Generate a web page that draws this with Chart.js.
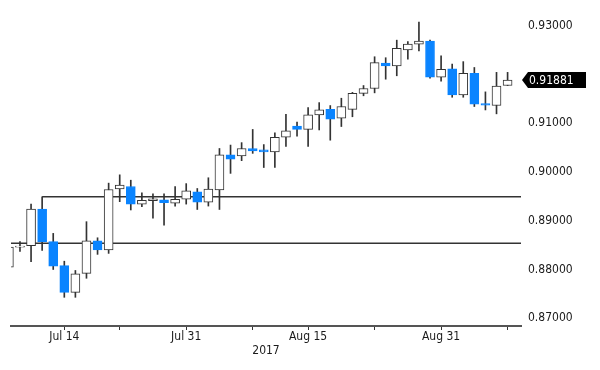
<!DOCTYPE html>
<html>
<head>
<meta charset="utf-8">
<script src="https://cdn.jsdelivr.net/npm/chart.js@4.4.0/dist/chart.umd.min.js"></script>
<style>
  html, body { margin: 0; padding: 0; background: #fff; }
  #wrap { width: 600px; height: 370px; }
</style>
</head>
<body>
<div id="wrap"><canvas id="c"></canvas></div>
<script>
'use strict'

// trading days, Jul 7 - Sep 8 2017
const dates = ['Jul 7','Jul 10','Jul 11','Jul 12','Jul 13','Jul 14','Jul 17','Jul 18','Jul 19','Jul 20',
  'Jul 21','Jul 24','Jul 25','Jul 26','Jul 27','Jul 28','Jul 31','Aug 1','Aug 2','Aug 3',
  'Aug 4','Aug 7','Aug 8','Aug 9','Aug 10','Aug 11','Aug 14','Aug 15','Aug 16','Aug 17',
  'Aug 18','Aug 21','Aug 22','Aug 23','Aug 24','Aug 25','Aug 28','Aug 29','Aug 30','Aug 31',
  'Sep 1','Sep 4','Sep 5','Sep 6','Sep 7','Sep 8'];

const open  = [0.8805,0.8846,0.8849,0.8924,0.8857,0.8808,0.8753,0.8792,0.8859,0.8840,
  0.8965,0.8970,0.8934,0.8941,0.8943,0.8936,0.8944,0.8959,0.8938,0.8963,
  0.9035,0.9033,0.9048,0.9045,0.9041,0.9071,0.9094,0.9087,0.9117,0.9128,
  0.9110,0.9128,0.9161,0.9171,0.9223,0.9217,0.9250,0.9262,0.9268,0.9194,
  0.9211,0.9158,0.9202,0.9140,0.9136,0.9177];
const high  = [0.8851,0.8857,0.8934,0.8949,0.8874,0.8817,0.8798,0.8898,0.8865,0.8977,
  0.8994,0.8983,0.8957,0.8955,0.8955,0.8970,0.8976,0.8966,0.8988,0.9048,
  0.9055,0.9060,0.9087,0.9056,0.9080,0.9118,0.9102,0.9132,0.9142,0.9136,
  0.9151,0.9163,0.9177,0.9236,0.9234,0.9270,0.9267,0.9307,0.9270,0.9238,
  0.9221,0.9226,0.9214,0.9164,0.9204,0.9204];
const low   = [0.8798,0.8837,0.8816,0.8839,0.8800,0.8743,0.8743,0.8782,0.8831,0.8833,
  0.8939,0.8922,0.8929,0.8905,0.8891,0.8930,0.8934,0.8923,0.8930,0.8923,
  0.8997,0.9023,0.9038,0.9009,0.9009,0.9052,0.9073,0.9052,0.9086,0.9065,
  0.9093,0.9113,0.9156,0.9162,0.9190,0.9197,0.9231,0.9248,0.9192,0.9186,
  0.9153,0.9153,0.9134,0.9127,0.9119,0.9177];
const close = [0.8846,0.8848,0.8924,0.8857,0.8807,0.8753,0.8791,0.8859,0.8840,0.8964,
  0.8973,0.8934,0.8942,0.8945,0.8937,0.8944,0.8961,0.8938,0.8965,0.9035,
  0.9026,0.9048,0.9043,0.9041,0.9071,0.9084,0.9087,0.9117,0.9127,0.9108,
  0.9134,0.9161,0.9171,0.9224,0.9217,0.9253,0.9262,0.9268,0.9194,0.9210,
  0.9158,0.9202,0.9139,0.9137,0.9176,0.91881];

// horizontal levels and the day each one starts
const levels = [0.8949, 0.8854];
const levelStart = [3, 0];

// x ticks (index into dates) and their labels
const xTickPos = [5, 10, 16, 22, 27, 33, 39, 45];
const xTickLabels = ['Jul 14', '', 'Jul 31', '', 'Aug 15', '', 'Aug 31', ''];
const yTicks = [0.87, 0.88, 0.89, 0.90, 0.91, 0.93];

const FONT = "'Liberation Sans Narrow', 'Arial Narrow', 'DejaVu Sans Condensed', sans-serif";
const BLUE = '#0a84ff';
const DARK = '#333333';

const down = close.map((c, i) => c < open[i]);

const wicks = dates.map((d, i) => ({ x: i, y: [low[i], high[i]] }));
const bodies = dates.map((d, i) => ({ x: i, y: [open[i], close[i]] }));

const lastTag = {
  id: 'lastTag',
  afterDraw(chart) {
    const ctx = chart.ctx;
    const y = chart.scales.y.getPixelForValue(close[close.length - 1]);
    const x0 = chart.chartArea.right + 1;
    ctx.save();
    ctx.fillStyle = '#000';
    ctx.beginPath();
    ctx.moveTo(x0, y);
    ctx.lineTo(x0 + 6, y - 8);
    ctx.lineTo(586, y - 8);
    ctx.lineTo(586, y + 8);
    ctx.lineTo(x0 + 6, y + 8);
    ctx.closePath();
    ctx.fill();
    ctx.fillStyle = '#fff';
    ctx.font = '12px ' + FONT;
    ctx.textBaseline = 'middle';
    ctx.fillText(close[close.length - 1].toFixed(5), x0 + 7, y + 0.5);
    ctx.restore();
  }
};

new Chart(document.getElementById('c'), {
  type: 'bar',
  data: {
    datasets: [
      {
        label: 'body',
        data: bodies,
        order: 0,
        grouped: false,
        barThickness: 9,
        backgroundColor: down.map(d => d ? BLUE : '#ffffff'),
        borderColor: down.map(d => d ? BLUE : DARK),
        borderWidth: 1,
        borderSkipped: false
      },
      {
        label: 'wick',
        data: wicks,
        order: 1,
        grouped: false,
        barThickness: 1,
        backgroundColor: DARK,
        borderWidth: 0
      },
      {
        type: 'line',
        label: 'level1',
        data: [{ x: levelStart[0], y: levels[0] }, { x: 46.3, y: levels[0] }],
        order: 2,
        borderColor: DARK,
        borderWidth: 1.5,
        pointRadius: 0
      },
      {
        type: 'line',
        label: 'level2',
        data: [{ x: levelStart[1], y: levels[1] }, { x: 46.3, y: levels[1] }],
        order: 2,
        borderColor: DARK,
        borderWidth: 1.5,
        pointRadius: 0
      }
    ]
  },
  options: {
    responsive: true,
    maintainAspectRatio: false,
    animation: false,
    layout: { padding: { left: 11, top: 0, right: 0, bottom: 0 } },
    plugins: { legend: { display: false }, tooltip: { enabled: false } },
    scales: {
      x: {
        type: 'linear',
        offset: false,
        min: 0.19,
        max: 46.21,
        afterBuildTicks: (s) => { s.ticks = xTickPos.map(v => ({ value: v })); },
        afterFit: (s) => { s.height = 44; s.paddingLeft = 0; s.paddingRight = 0; },
        grid: { offset: false, drawOnChartArea: false, color: DARK, tickLength: 4, lineWidth: 1 },
        border: { color: '#555555', width: 2 },
        ticks: {
          autoSkip: false,
          maxRotation: 0,
          padding: 0,
          color: '#1a1a1a',
          font: { family: FONT, size: 12 },
          callback: (v) => xTickLabels[xTickPos.indexOf(v)]
        },
        title: {
          display: true,
          text: '2017',
          color: '#1a1a1a',
          font: { family: FONT, size: 12 },
          padding: { top: 0, bottom: 12 }
        }
      },
      y: {
        position: 'right',
        min: 0.86842,
        max: 0.93523,
        afterBuildTicks: (s) => { s.ticks = yTicks.map(v => ({ value: v })); },
        afterFit: (s) => { s.width = 79; s.paddingTop = 0; s.paddingBottom = 0; },
        grid: { display: false, drawTicks: false },
        border: { display: false },
        ticks: {
          padding: 7,
          color: '#1a1a1a',
          font: { family: FONT, size: 12 },
          callback: (v) => Number(v).toFixed(5)
        }
      }
    }
  },
  plugins: [lastTag]
});
</script>
</body>
</html>
